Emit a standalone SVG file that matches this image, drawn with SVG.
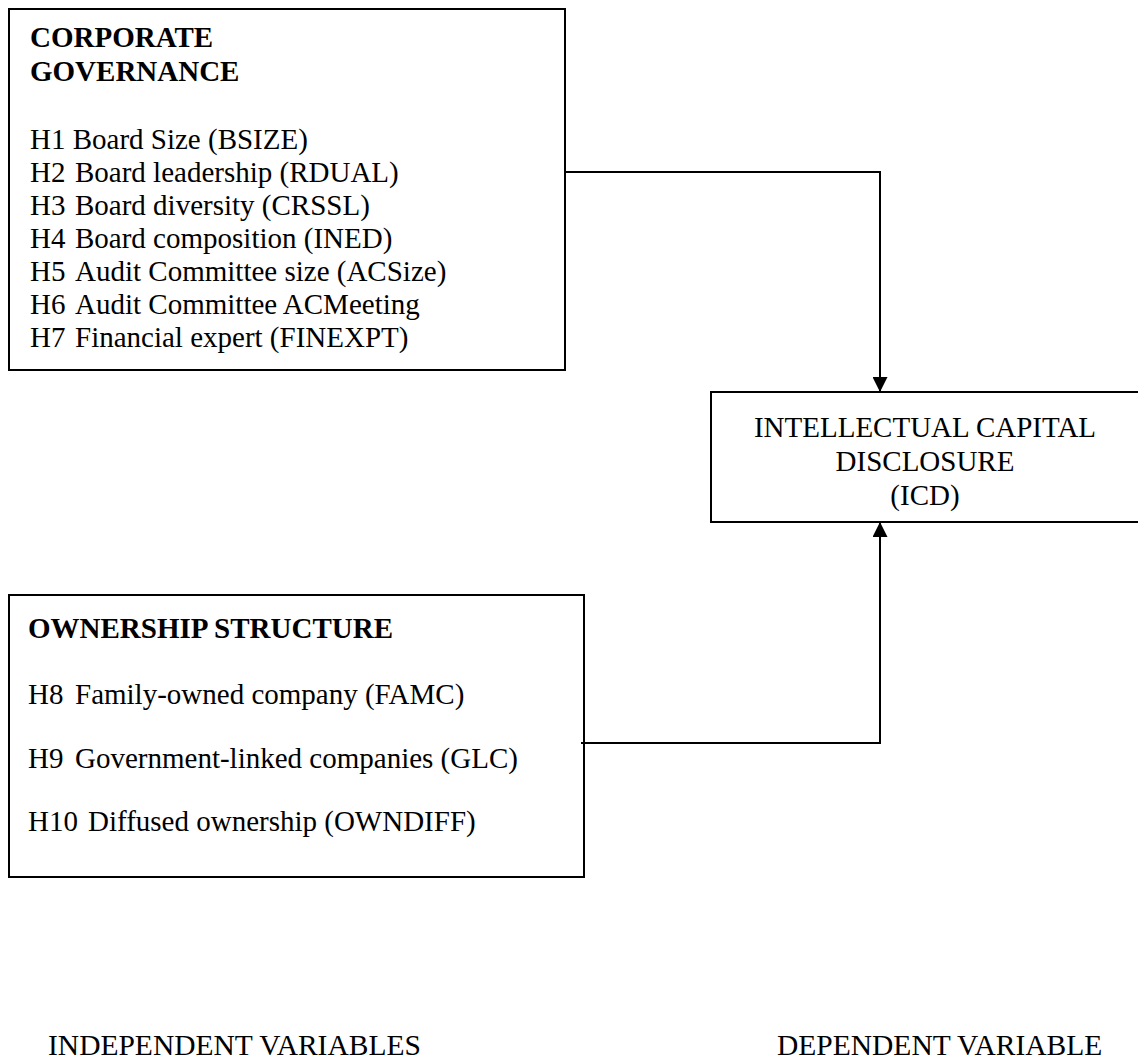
<svg xmlns="http://www.w3.org/2000/svg" width="1138" height="1059" viewBox="0 0 1138 1059">
  <style>
    .box { fill: #ffffff; stroke: #000000; stroke-width: 2; }
    .wire { fill: none; stroke: #000000; stroke-width: 2; }
    text { font-family: "Liberation Serif", "Times New Roman", serif; font-size: 29px; fill: #000000; }
    .head { font-weight: bold; }
    .mid { text-anchor: middle; }
    .caption { font-size: 29.5px; }
  </style>
  <defs>
    <marker id="arrow" markerUnits="userSpaceOnUse" markerWidth="15" markerHeight="15" refX="15" refY="7.5" orient="auto">
      <path d="M0,0 L15,7.5 L0,15 z" fill="#000000"/>
    </marker>
  </defs>
  <rect width="1138" height="1059" fill="#ffffff"/>

  <!-- independent variables: corporate governance -->
  <g id="corporate-governance">
    <rect class="box" x="9" y="9" width="556" height="361"/>
    <text class="head" x="30" y="47">CORPORATE</text>
    <text class="head" x="30" y="81">GOVERNANCE</text>
    <text x="30" y="149">H1 Board Size (BSIZE)</text>
    <text x="30" y="182">H2</text><text x="75" y="182">Board leadership (RDUAL)</text>
    <text x="30" y="215">H3</text><text x="75" y="215">Board diversity (CRSSL)</text>
    <text x="30" y="248">H4</text><text x="75" y="248">Board composition (INED)</text>
    <text x="30" y="281">H5</text><text x="75" y="281">Audit Committee size (ACSize)</text>
    <text x="30" y="314">H6</text><text x="75" y="314">Audit Committee ACMeeting</text>
    <text x="30" y="347">H7</text><text x="75" y="347">Financial expert (FINEXPT)</text>
  </g>

  <!-- dependent variable -->
  <g id="icd">
    <rect class="box" x="711" y="392" width="432" height="130"/>
    <text class="mid" x="925" y="437">INTELLECTUAL CAPITAL</text>
    <text class="mid" x="925" y="471">DISCLOSURE</text>
    <text class="mid" x="925" y="505">(ICD)</text>
  </g>

  <!-- independent variables: ownership structure -->
  <g id="ownership-structure">
    <rect class="box" x="9" y="595" width="575" height="282"/>
    <text class="head" x="28" y="638">OWNERSHIP STRUCTURE</text>
    <text x="28" y="704">H8</text><text x="75" y="704">Family-owned company (FAMC)</text>
    <text x="28" y="768">H9</text><text x="75" y="768">Government-linked companies (GLC)</text>
    <text x="28" y="831">H10</text><text x="88" y="831">Diffused ownership (OWNDIFF)</text>
  </g>

  <!-- connectors -->
  <g id="connectors">
    <path class="wire" d="M565,172 H880 V392" marker-end="url(#arrow)"/>
    <path class="wire" d="M581,743 H880 V522" marker-end="url(#arrow)"/>
  </g>

  <!-- column captions -->
  <g id="captions">
    <text class="caption" x="48" y="1055">INDEPENDENT VARIABLES</text>
    <text class="caption" x="777" y="1055">DEPENDENT VARIABLE</text>
  </g>
</svg>
